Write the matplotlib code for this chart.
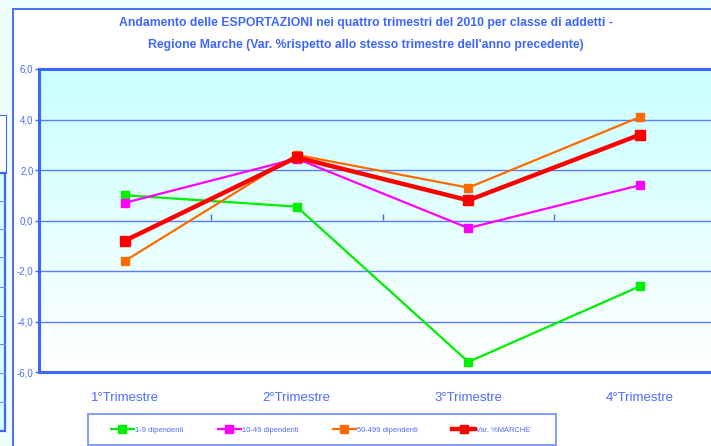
import numpy as np
import matplotlib.pyplot as plt
from matplotlib.patches import Rectangle
from matplotlib.lines import Line2D
from matplotlib.colors import LinearSegmentedColormap

# data (Var. % rispetto allo stesso trimestre dell'anno precedente)
trimestri = ["1°Trimestre", "2°Trimestre", "3°Trimestre", "4°Trimestre"]
dip_1_9 = [1.0, 0.55, -5.6, -2.6]
dip_10_49 = [0.7, 2.45, -0.3, 1.4]
dip_50_499 = [-1.6, 2.6, 1.3, 4.1]
var_marche = [-0.8, 2.5, 0.8, 3.4]

series_names = ["1-9 dipendenti", "10-49 dipendenti", "50-499 dipendenti", "Var. %MARCHE"]
y_ticks = [-6, -4, -2, 0, 2, 4, 6]

BLUE = "#3d66ff"
GRID = "#5a7dff"
TXT = "#4a6cff"
plt.rcParams["font.family"] = ["Liberation Sans Narrow", "Liberation Sans", "DejaVu Sans"]

W, H = 711, 446
fig = plt.figure(figsize=(W / 100, H / 100), dpi=100)
fig.patch.set_facecolor("#effefe")


def box(x0, y0, x1, y1, **kw):
    # rectangle given in pixels (top-left origin), drawn under the axes
    r = Rectangle((x0 / W, 1 - y1 / H), (x1 - x0) / W, (y1 - y0) / H,
                  transform=fig.transFigure, zorder=-2, **kw)
    fig.add_artist(r)


# piece of the neighbouring chart on the left edge
box(-2, 115, 6, 173, facecolor="white", edgecolor=BLUE, lw=0.8)
box(-2, 173, 5, 431, facecolor="#d6ffff", edgecolor=BLUE, lw=1.6)
for yy in [201, 229, 257, 287, 316, 344, 373, 402]:
    fig.add_artist(Line2D([0, 5 / W], [1 - yy / H] * 2, transform=fig.transFigure,
                          color="#6a8cff", lw=0.8, zorder=-1))

# main chart frame (white)
box(13, 9, 720, 460, facecolor="white", edgecolor=BLUE, lw=1.3)

ax = fig.add_axes((39 / W, 1 - 372 / H, 687 / W, 303 / H))
ax.set_xlim(-0.5, 3.5)

# gradient background of plot area
grad = np.linspace(0, 1, 256).reshape(-1, 1)
cmap = LinearSegmentedColormap.from_list("bg", ["#c9ffff", "#ffffff"])
ax.imshow(grad, extent=(-0.5, 3.5, -6, 6), aspect="auto", cmap=cmap,
          zorder=0, origin="upper")
ax.set_ylim(-6, 6)

for yv in [4, 2, 0, -2, -4]:
    ax.axhline(yv, color=GRID, lw=1.0, zorder=1)

x = np.arange(len(trimestri))
h1, = ax.plot(x, dip_1_9, color="#00ee00", lw=1.6, marker="s", ms=6, zorder=3)
h2, = ax.plot(x, dip_10_49, color="#ff00ff", lw=1.6, marker="s", ms=6, zorder=3)
h3, = ax.plot(x, dip_50_499, color="#ff6a00", lw=1.6, marker="s", ms=6, zorder=3)
h4, = ax.plot(x, var_marche, color="#ff0000", lw=3.2, marker="s", ms=7, zorder=4)

for s in ["top", "bottom", "left"]:
    ax.spines[s].set_color(BLUE)
    ax.spines[s].set_linewidth(2.2)
ax.spines["right"].set_visible(False)

ax.set_yticks(y_ticks)
ax.set_yticklabels([f"{v:.1f}".replace(".", ",") for v in y_ticks])
ax.tick_params(axis="y", colors=BLUE, labelcolor=TXT, labelsize=7,
               length=3, width=1, pad=1)
ax.set_xticks(x)
ax.set_xticklabels(trimestri)
ax.tick_params(axis="x", length=0, labelcolor=TXT, labelsize=9.5, pad=14.5)

# category axis crossing at 0 with ticks between categories
sec = ax.secondary_xaxis(0.5)
sec.set_xticks([0.5, 1.5, 2.5])
sec.set_xticklabels([])
sec.tick_params(length=4, color=BLUE, width=1, direction="out")
for sp in sec.spines.values():
    sp.set_visible(False)

fig.text(366 / W, 1 - 34 / H,
         "Andamento delle ESPORTAZIONI nei quattro trimestri del 2010 per classe di addetti -\n"
         "Regione Marche (Var. %rispetto allo stesso trimestre dell'anno precedente)",
         ha="center", va="center", color=BLUE, fontsize=8.8, fontweight="bold",
         linespacing=2.15)

# legend
box(88, 414, 556, 445, facecolor="white", edgecolor="#6a8cff", lw=1.2)
fig.legend([h1, h2, h3, h4], series_names, loc="center left", ncol=4,
           bbox_to_anchor=(107 / W, 1 - 430 / H), frameon=False, borderpad=0,
           fontsize=5.4, handlelength=3.07, handletextpad=0.15, columnspacing=4.6,
           labelcolor=TXT, markerscale=0.9)

fig.savefig("out.png", dpi=100, facecolor=fig.get_facecolor())
